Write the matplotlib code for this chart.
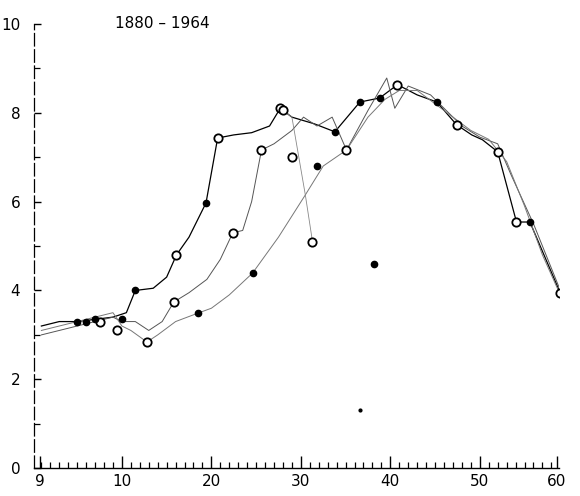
import matplotlib.pyplot as plt
import numpy as np

# values
s1_x = [1, 3, 5, 7, 9, 10.5, 11.5, 13.5, 15, 16.1, 17.5, 19.4, 20.7, 22.5, 24.5, 26.5, 27.7, 29.0,
        31.5, 33.8, 36.6, 38.8, 40.8, 43, 45.2, 47.4, 49.1, 50.3, 52.0, 54.1, 55.6, 59.0]
s1_y = [3.2, 3.3, 3.3, 3.35, 3.4, 3.5, 4.0, 4.05, 4.3, 4.8, 5.2, 5.97, 7.43, 7.5, 7.55, 7.7, 8.1, 7.9,
        7.75, 7.57, 8.24, 8.33, 8.63, 8.4, 8.24, 7.73, 7.5, 7.39, 7.12, 5.54, 5.54, 3.94]

s2_x = [1, 3, 5, 7, 9, 10, 11.5, 13, 14.5, 15.8, 17.5, 19.5, 21, 22.4, 23.5, 24.5, 25.6, 27, 29,
        30.3, 31.8, 33.5, 35.1, 37.5, 39.6, 40.5, 42, 44.5, 46, 48, 50, 52, 53.5, 56, 59]
s2_y = [3.0, 3.1, 3.2, 3.3, 3.4, 3.3, 3.3, 3.1, 3.3, 3.74, 3.95, 4.25, 4.7, 5.3, 5.35, 6.0, 7.16, 7.3, 7.6,
        7.9, 7.7, 7.9, 7.16, 8.05, 8.78, 8.1, 8.6, 8.4, 8.1, 7.7, 7.45, 7.3, 6.6, 5.5, 4.0]

s3_x = [1, 3, 5, 7, 9, 10, 11, 12.8, 14, 16, 18.5, 20, 22, 24.6, 27.5, 30.5, 32.5, 35.1, 37.5, 39.4,
        41, 43, 45, 47, 49, 51, 53, 55, 57, 59]
s3_y = [3.1, 3.2, 3.3, 3.4, 3.5, 3.2, 3.1, 2.84, 3.0, 3.3, 3.49, 3.6, 3.9, 4.39, 5.2, 6.15, 6.8, 7.16, 7.9, 8.3,
        8.5, 8.5, 8.2, 7.9, 7.6, 7.4, 6.9, 5.9, 4.8, 3.9]

s4_x = [28.0, 29.0, 30.5, 31.3]
s4_y = [8.06, 7.9, 6.15, 5.1]

open_x = [7.5, 9.5, 12.8, 15.8, 16.1, 20.7, 22.4, 25.6, 27.7, 28.0, 29.0, 31.3, 35.1, 40.8, 47.4, 52.0, 54.1, 59.0]
open_y = [3.3, 3.1, 2.84, 3.74, 4.8, 7.43, 5.3, 7.16, 8.1, 8.06, 7.0, 5.1, 7.16, 8.63, 7.73, 7.12, 5.54, 3.94]

filled_x = [5, 6, 7, 10, 11.5, 18.5, 19.4, 24.6, 31.8, 33.8, 36.6, 38.8, 45.2, 38.2, 55.6]
filled_y = [3.3, 3.3, 3.35, 3.35, 4.0, 3.49, 5.97, 4.39, 6.8, 7.57, 8.24, 8.33, 8.24, 4.6, 5.54]

stray_x = [36.6]
stray_y = [1.3]

x_ticks = [0.8, 10, 20, 30, 40, 50, 58.6]
x_labels = ['9', '10', '20', '30', '40', '50', '60']
y_ticks = [0, 2, 4, 6, 8, 10]
y_labels = ['0', '2', '4', '6', '8', '10']

fig = plt.figure(figsize=(5.8, 4.96), dpi=100)
ax = fig.add_axes([0.059, 0.056, 0.904, 0.896])

ax.plot(s1_x, s1_y, color='black', lw=0.9)
ax.plot(s2_x, s2_y, color='#555555', lw=0.7)
ax.plot(s3_x, s3_y, color='#777777', lw=0.7)
ax.plot(s4_x, s4_y, color='#888888', lw=0.6)

ax.plot(open_x, open_y, 'o', ms=6, mfc='white', mec='black', mew=1.3, ls='none')
ax.plot(filled_x, filled_y, 'o', ms=4.5, color='black', ls='none')
ax.plot(stray_x, stray_y, 'o', ms=2, color='black', ls='none')

ax.set_xlim(0.2, 58.8)
ax.set_ylim(0, 10)

ax.set_xticks(x_ticks)
ax.set_xticklabels(x_labels)
ax.set_xticks(np.arange(1, 59), minor=True)
ax.set_yticks(y_ticks)
ax.set_yticklabels(y_labels)
ax.set_yticks([1, 3, 5, 7, 9], minor=True)

ax.tick_params(axis='x', which='major', direction='in', length=9, width=1, labelsize=11, pad=4)
ax.tick_params(axis='x', which='minor', direction='in', length=4, width=0.9)
ax.tick_params(axis='y', which='major', direction='in', length=5, width=1, labelsize=11, pad=10)
ax.tick_params(axis='y', which='minor', direction='in', length=4, width=0.9)

for side in ['top', 'right']:
    ax.spines[side].set_visible(False)
ax.spines['left'].set_linewidth(0.9)
ax.spines['left'].set_linestyle((0, (10, 3)))
ax.spines['bottom'].set_linewidth(1.0)

fig.text(0.28, 0.953, '1880 – 1964', fontsize=11, ha='center', va='center')

fig.savefig('out.png', dpi=100)
